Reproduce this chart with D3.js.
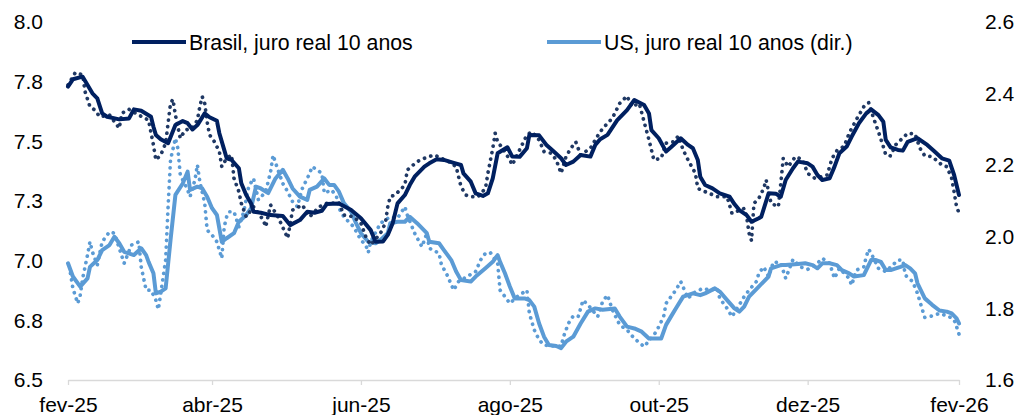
<!DOCTYPE html>
<html>
<head>
<meta charset="utf-8">
<script src="https://cdn.jsdelivr.net/npm/d3@7"></script>
<style>
  body { margin: 0; background: #fff; }
  svg { display: block; font-family: "Liberation Sans", Arial, sans-serif; }
</style>
</head>
<body>
<div id="chart"></div>
<script>
// Brasil, juro real 10 anos (media, linha cheia) - eixo esq.
var brasilMedia = [["2025-02-01",7.729],["2025-02-03",7.760],["2025-02-07",7.771],["2025-02-09",7.736],["2025-02-11",7.701],["2025-02-13",7.680],["2025-02-15",7.617],["2025-02-17",7.603],["2025-02-22",7.592],["2025-02-26",7.596],["2025-02-28",7.634],["2025-03-03",7.628],["2025-03-07",7.603],["2025-03-08",7.561],["2025-03-09",7.527],["2025-03-11",7.509],["2025-03-14",7.492],["2025-03-17",7.568],["2025-03-20",7.585],["2025-03-22",7.576],["2025-03-24",7.550],["2025-03-26",7.568],["2025-03-29",7.617],["2025-03-31",7.601],["2025-04-03",7.586],["2025-04-04",7.534],["2025-04-06",7.464],["2025-04-07",7.429],["2025-04-09",7.422],["2025-04-12",7.387],["2025-04-13",7.324],["2025-04-15",7.275],["2025-04-17",7.240],["2025-04-18",7.205],["2025-04-21",7.201],["2025-04-25",7.191],["2025-04-30",7.187],["2025-05-03",7.149],["2025-05-07",7.170],["2025-05-10",7.205],["2025-05-13",7.201],["2025-05-16",7.209],["2025-05-18",7.237],["2025-05-23",7.240],["2025-05-28",7.212],["2025-06-01",7.178],["2025-06-05",7.128],["2025-06-07",7.079],["2025-06-10",7.080],["2025-06-12",7.108],["2025-06-14",7.157],["2025-06-16",7.240],["2025-06-19",7.275],["2025-06-21",7.317],["2025-06-23",7.352],["2025-06-27",7.394],["2025-06-29",7.408],["2025-07-02",7.425],["2025-07-05",7.422],["2025-07-09",7.410],["2025-07-12",7.401],["2025-07-13",7.366],["2025-07-16",7.331],["2025-07-18",7.282],["2025-07-21",7.271],["2025-07-23",7.282],["2025-07-25",7.345],["2025-07-27",7.450],["2025-07-31",7.475],["2025-08-02",7.436],["2025-08-05",7.435],["2025-08-08",7.471],["2025-08-09",7.527],["2025-08-13",7.525],["2025-08-16",7.485],["2025-08-19",7.457],["2025-08-22",7.429],["2025-08-24",7.401],["2025-08-27",7.415],["2025-08-30",7.443],["2025-09-03",7.436],["2025-09-05",7.485],["2025-09-07",7.509],["2025-09-10",7.527],["2025-09-14",7.589],["2025-09-18",7.631],["2025-09-21",7.673],["2025-09-25",7.652],["2025-09-27",7.617],["2025-09-28",7.547],["2025-10-01",7.513],["2025-10-04",7.457],["2025-10-06",7.475],["2025-10-10",7.513],["2025-10-13",7.485],["2025-10-15",7.471],["2025-10-17",7.422],["2025-10-18",7.352],["2025-10-20",7.317],["2025-10-23",7.303],["2025-10-26",7.282],["2025-10-30",7.268],["2025-11-01",7.237],["2025-11-03",7.212],["2025-11-06",7.191],["2025-11-08",7.163],["2025-11-11",7.178],["2025-11-12",7.184],["2025-11-15",7.282],["2025-11-18",7.280],["2025-11-20",7.268],["2025-11-22",7.338],["2025-11-25",7.387],["2025-11-27",7.415],["2025-12-01",7.408],["2025-12-03",7.394],["2025-12-05",7.359],["2025-12-07",7.338],["2025-12-10",7.345],["2025-12-12",7.394],["2025-12-14",7.450],["2025-12-17",7.478],["2025-12-19",7.519],["2025-12-22",7.576],["2025-12-25",7.617],["2025-12-27",7.634],["2025-12-30",7.610],["2026-01-01",7.582],["2026-01-02",7.506],["2026-01-04",7.475],["2026-01-07",7.464],["2026-01-09",7.461],["2026-01-11",7.498],["2026-01-15",7.513],["2026-01-19",7.485],["2026-01-22",7.457],["2026-01-25",7.429],["2026-01-28",7.419],["2026-01-30",7.359],["2026-02-01",7.275]];

// Brasil diario (pontilhado)
var brasilDiario = [["2025-02-01",7.736],["2025-02-04",7.788],["2025-02-07",7.778],["2025-02-08",7.708],["2025-02-10",7.645],["2025-02-12",7.631],["2025-02-14",7.603],["2025-02-18",7.610],["2025-02-22",7.555],["2025-02-23",7.617],["2025-02-26",7.634],["2025-03-02",7.610],["2025-03-06",7.589],["2025-03-08",7.485],["2025-03-09",7.422],["2025-03-11",7.443],["2025-03-13",7.492],["2025-03-14",7.576],["2025-03-15",7.659],["2025-03-16",7.676],["2025-03-17",7.610],["2025-03-19",7.513],["2025-03-21",7.547],["2025-03-24",7.555],["2025-03-26",7.589],["2025-03-27",7.645],["2025-03-28",7.687],["2025-03-29",7.659],["2025-03-30",7.582],["2025-03-31",7.527],["2025-04-02",7.498],["2025-04-04",7.457],["2025-04-05",7.394],["2025-04-07",7.429],["2025-04-09",7.443],["2025-04-10",7.345],["2025-04-12",7.289],["2025-04-13",7.240],["2025-04-15",7.184],["2025-04-18",7.226],["2025-04-22",7.170],["2025-04-23",7.142],["2025-04-25",7.233],["2025-04-28",7.184],["2025-05-02",7.094],["2025-05-04",7.212],["2025-05-08",7.233],["2025-05-11",7.184],["2025-05-15",7.226],["2025-05-18",7.240],["2025-05-23",7.243],["2025-05-25",7.191],["2025-05-29",7.184],["2025-06-01",7.157],["2025-06-03",7.100],["2025-06-05",7.066],["2025-06-09",7.115],["2025-06-11",7.157],["2025-06-12",7.226],["2025-06-13",7.268],["2025-06-15",7.275],["2025-06-19",7.317],["2025-06-20",7.380],["2025-06-24",7.415],["2025-06-27",7.429],["2025-07-01",7.443],["2025-07-04",7.429],["2025-07-07",7.415],["2025-07-10",7.394],["2025-07-12",7.310],["2025-07-14",7.275],["2025-07-16",7.268],["2025-07-19",7.268],["2025-07-22",7.303],["2025-07-23",7.366],["2025-07-25",7.471],["2025-07-26",7.534],["2025-07-27",7.498],["2025-07-29",7.471],["2025-08-01",7.422],["2025-08-02",7.401],["2025-08-05",7.464],["2025-08-08",7.527],["2025-08-10",7.540],["2025-08-13",7.506],["2025-08-15",7.457],["2025-08-18",7.450],["2025-08-20",7.422],["2025-08-22",7.366],["2025-08-24",7.436],["2025-08-26",7.471],["2025-08-28",7.498],["2025-08-30",7.443],["2025-09-03",7.471],["2025-09-05",7.506],["2025-09-07",7.540],["2025-09-10",7.576],["2025-09-12",7.597],["2025-09-15",7.659],["2025-09-18",7.690],["2025-09-20",7.645],["2025-09-23",7.659],["2025-09-25",7.582],["2025-09-27",7.506],["2025-09-29",7.422],["2025-10-02",7.429],["2025-10-04",7.492],["2025-10-07",7.498],["2025-10-09",7.522],["2025-10-11",7.464],["2025-10-13",7.422],["2025-10-16",7.366],["2025-10-17",7.303],["2025-10-19",7.293],["2025-10-25",7.268],["2025-10-29",7.268],["2025-10-31",7.198],["2025-11-05",7.219],["2025-11-06",7.184],["2025-11-07",7.115],["2025-11-08",7.084],["2025-11-09",7.240],["2025-11-11",7.261],["2025-11-13",7.303],["2025-11-14",7.338],["2025-11-16",7.240],["2025-11-19",7.226],["2025-11-20",7.324],["2025-11-21",7.429],["2025-11-23",7.394],["2025-11-26",7.436],["2025-11-29",7.422],["2025-12-01",7.366],["2025-12-04",7.345],["2025-12-09",7.359],["2025-12-11",7.429],["2025-12-13",7.461],["2025-12-16",7.480],["2025-12-18",7.534],["2025-12-21",7.592],["2025-12-24",7.645],["2025-12-26",7.662],["2025-12-28",7.597],["2025-12-30",7.540],["2026-01-01",7.478],["2026-01-02",7.443],["2026-01-04",7.439],["2026-01-06",7.485],["2026-01-11",7.534],["2026-01-14",7.531],["2026-01-16",7.471],["2026-01-18",7.439],["2026-01-21",7.436],["2026-01-25",7.401],["2026-01-27",7.394],["2026-01-29",7.345],["2026-01-30",7.289],["2026-01-31",7.226],["2026-02-01",7.200]];

// US, juro real 10 anos (media, linha cheia) - eixo dir.
var usMedia = [["2025-02-01",1.926],["2025-02-03",1.889],["2025-02-06",1.861],["2025-02-09",1.884],["2025-02-10",1.916],["2025-02-13",1.935],["2025-02-15",1.963],["2025-02-18",1.977],["2025-02-20",2.000],["2025-02-22",1.982],["2025-02-24",1.958],["2025-02-28",1.949],["2025-03-03",1.968],["2025-03-05",1.949],["2025-03-06",1.930],["2025-03-08",1.898],["2025-03-09",1.842],["2025-03-11",1.847],["2025-03-13",1.856],["2025-03-15",1.991],["2025-03-17",2.117],["2025-03-20",2.149],["2025-03-22",2.182],["2025-03-23",2.131],["2025-03-26",2.140],["2025-03-28",2.135],["2025-03-30",2.112],["2025-04-01",2.080],["2025-04-03",2.061],["2025-04-05",1.986],["2025-04-07",1.996],["2025-04-10",2.010],["2025-04-12",2.042],["2025-04-15",2.061],["2025-04-17",2.080],["2025-04-19",2.140],["2025-04-21",2.135],["2025-04-24",2.122],["2025-04-27",2.163],["2025-04-30",2.187],["2025-05-02",2.163],["2025-05-04",2.135],["2025-05-07",2.112],["2025-05-10",2.103],["2025-05-11",2.131],["2025-05-14",2.140],["2025-05-17",2.163],["2025-05-19",2.145],["2025-05-21",2.145],["2025-05-23",2.126],["2025-05-25",2.094],["2025-05-28",2.070],["2025-05-30",2.038],["2025-06-01",2.010],["2025-06-04",1.986],["2025-06-07",1.982],["2025-06-09",1.991],["2025-06-12",2.010],["2025-06-13",2.038],["2025-06-16",2.042],["2025-06-19",2.042],["2025-06-21",2.056],["2025-06-24",2.038],["2025-06-26",2.024],["2025-06-28",2.010],["2025-06-29",1.986],["2025-07-03",1.982],["2025-07-05",1.963],["2025-07-08",1.935],["2025-07-10",1.903],["2025-07-12",1.879],["2025-07-16",1.875],["2025-07-18",1.889],["2025-07-22",1.912],["2025-07-25",1.930],["2025-07-27",1.949],["2025-07-28",1.930],["2025-07-30",1.898],["2025-08-01",1.861],["2025-08-03",1.828],["2025-08-07",1.828],["2025-08-09",1.823],["2025-08-11",1.805],["2025-08-13",1.758],["2025-08-15",1.721],["2025-08-17",1.698],["2025-08-20",1.695],["2025-08-22",1.689],["2025-08-24",1.707],["2025-08-27",1.721],["2025-08-30",1.758],["2025-09-02",1.791],["2025-09-05",1.800],["2025-09-08",1.796],["2025-09-13",1.800],["2025-09-15",1.777],["2025-09-18",1.749],["2025-09-21",1.744],["2025-09-24",1.735],["2025-09-27",1.716],["2025-10-02",1.716],["2025-10-04",1.754],["2025-10-06",1.777],["2025-10-08",1.800],["2025-10-11",1.833],["2025-10-15",1.842],["2025-10-18",1.837],["2025-10-20",1.842],["2025-10-24",1.856],["2025-10-26",1.847],["2025-10-29",1.823],["2025-11-01",1.800],["2025-11-03",1.791],["2025-11-05",1.805],["2025-11-07",1.833],["2025-11-11",1.861],["2025-11-15",1.889],["2025-11-16",1.912],["2025-11-20",1.921],["2025-11-22",1.921],["2025-11-27",1.924],["2025-11-30",1.926],["2025-12-03",1.921],["2025-12-05",1.912],["2025-12-07",1.926],["2025-12-10",1.926],["2025-12-13",1.921],["2025-12-15",1.907],["2025-12-18",1.898],["2025-12-20",1.889],["2025-12-24",1.893],["2025-12-27",1.935],["2025-12-29",1.935],["2025-12-31",1.930],["2026-01-02",1.907],["2026-01-04",1.907],["2026-01-08",1.916],["2026-01-10",1.921],["2026-01-12",1.912],["2026-01-14",1.898],["2026-01-15",1.870],["2026-01-18",1.828],["2026-01-21",1.810],["2026-01-24",1.794],["2026-01-27",1.791],["2026-01-29",1.786],["2026-01-31",1.772],["2026-02-01",1.758]];

// US diario (pontilhado)
var usDiario = [["2025-02-02",1.898],["2025-02-03",1.856],["2025-02-05",1.814],["2025-02-06",1.837],["2025-02-07",1.884],["2025-02-09",1.949],["2025-02-10",1.986],["2025-02-11",1.958],["2025-02-13",1.921],["2025-02-15",1.986],["2025-02-18",2.014],["2025-02-20",2.010],["2025-02-22",1.968],["2025-02-24",1.926],["2025-02-27",1.977],["2025-03-02",1.986],["2025-03-03",1.916],["2025-03-05",1.851],["2025-03-07",1.851],["2025-03-09",1.823],["2025-03-10",1.797],["2025-03-11",1.842],["2025-03-13",1.935],["2025-03-14",2.084],["2025-03-15",2.215],["2025-03-17",2.275],["2025-03-18",2.247],["2025-03-19",2.173],["2025-03-22",2.131],["2025-03-23",2.112],["2025-03-25",2.159],["2025-03-26",2.201],["2025-03-27",2.154],["2025-03-29",2.094],["2025-03-30",2.019],["2025-04-01",2.005],["2025-04-03",1.986],["2025-04-05",1.940],["2025-04-06",2.028],["2025-04-07",2.056],["2025-04-08",2.070],["2025-04-10",2.070],["2025-04-12",2.028],["2025-04-14",2.070],["2025-04-16",2.140],["2025-04-18",2.163],["2025-04-20",2.103],["2025-04-23",2.126],["2025-04-25",2.182],["2025-04-26",2.228],["2025-04-28",2.187],["2025-04-30",2.149],["2025-05-02",2.126],["2025-05-04",2.098],["2025-05-06",2.084],["2025-05-07",2.112],["2025-05-08",2.135],["2025-05-11",2.177],["2025-05-12",2.196],["2025-05-14",2.187],["2025-05-16",2.177],["2025-05-17",2.122],["2025-05-20",2.131],["2025-05-22",2.112],["2025-05-23",2.080],["2025-05-25",2.056],["2025-05-29",2.028],["2025-06-01",1.991],["2025-06-03",1.977],["2025-06-04",1.956],["2025-06-05",1.986],["2025-06-09",2.038],["2025-06-13",2.056],["2025-06-16",2.052],["2025-06-19",2.084],["2025-06-20",2.061],["2025-06-23",2.010],["2025-06-26",1.972],["2025-06-28",2.010],["2025-06-29",1.968],["2025-07-03",1.954],["2025-07-04",1.921],["2025-07-06",1.898],["2025-07-09",1.851],["2025-07-11",1.875],["2025-07-18",1.903],["2025-07-20",1.935],["2025-07-22",1.954],["2025-07-24",1.956],["2025-07-27",1.926],["2025-07-28",1.851],["2025-07-29",1.842],["2025-08-01",1.814],["2025-08-04",1.833],["2025-08-08",1.851],["2025-08-09",1.786],["2025-08-11",1.740],["2025-08-13",1.712],["2025-08-15",1.698],["2025-08-18",1.695],["2025-08-22",1.695],["2025-08-23",1.721],["2025-08-25",1.758],["2025-08-27",1.779],["2025-08-29",1.777],["2025-08-31",1.823],["2025-09-02",1.810],["2025-09-06",1.777],["2025-09-08",1.819],["2025-09-10",1.837],["2025-09-12",1.796],["2025-09-15",1.754],["2025-09-18",1.740],["2025-09-21",1.716],["2025-09-25",1.693],["2025-09-30",1.735],["2025-10-03",1.777],["2025-10-04",1.814],["2025-10-08",1.851],["2025-10-10",1.875],["2025-10-13",1.828],["2025-10-15",1.842],["2025-10-19",1.856],["2025-10-22",1.851],["2025-10-25",1.856],["2025-10-26",1.828],["2025-10-29",1.800],["2025-10-31",1.777],["2025-11-03",1.810],["2025-11-05",1.833],["2025-11-07",1.851],["2025-11-10",1.875],["2025-11-11",1.898],["2025-11-13",1.916],["2025-11-15",1.889],["2025-11-17",1.930],["2025-11-20",1.926],["2025-11-22",1.884],["2025-11-25",1.937],["2025-11-28",1.916],["2025-12-01",1.909],["2025-12-05",1.926],["2025-12-07",1.940],["2025-12-10",1.926],["2025-12-12",1.884],["2025-12-14",1.912],["2025-12-18",1.884],["2025-12-19",1.865],["2025-12-21",1.907],["2025-12-24",1.916],["2025-12-25",1.944],["2025-12-26",1.965],["2025-12-27",1.954],["2025-12-28",1.940],["2025-12-30",1.912],["2026-01-02",1.903],["2026-01-07",1.935],["2026-01-09",1.935],["2026-01-10",1.893],["2026-01-13",1.875],["2026-01-15",1.842],["2026-01-16",1.819],["2026-01-17",1.796],["2026-01-18",1.775],["2026-01-21",1.779],["2026-01-24",1.786],["2026-01-28",1.777],["2026-01-30",1.768],["2026-01-31",1.749],["2026-02-01",1.728]];

var xTicks = ["2025-02-01","2025-04-01","2025-06-01","2025-08-01","2025-10-01","2025-12-01","2026-02-01"];
var xLabels = ["fev-25","abr-25","jun-25","ago-25","out-25","dez-25","fev-26"];
var yLeftTicks = [6.5, 6.75, 7.0, 7.25, 7.5, 7.75, 8.0];
var yLeftLabels = ["6.5","6.8","7.0","7.3","7.5","7.8","8.0"];
var yRightTicks = [1.6, 1.8, 2.0, 2.2, 2.4, 2.6];
var yRightLabels = ["1.6","1.8","2.0","2.2","2.4","2.6"];
var legendNames = ["Brasil, juro real 10 anos", "US, juro real 10 anos (dir.)"];

var W = 1020, H = 415,
    plot = {left: 68, right: 959, top: 22, bottom: 380};

var parse = d3.timeParse("%Y-%m-%d");
var navy = "#002060", navyDot = "#1f3864", blue = "#5b9bd5";

var svg = d3.select("#chart").append("svg")
    .attr("width", W)
    .attr("height", H);

var x = d3.scaleTime()
    .domain([parse("2025-02-01"), parse("2026-02-01")])
    .range([plot.left, plot.right]);

var yL = d3.scaleLinear().domain([6.5, 8.0]).range([plot.bottom, plot.top]);
var yR = d3.scaleLinear().domain([1.6, 2.6]).range([plot.bottom, plot.top]);

// axes
var gx = svg.append("g")
    .attr("transform", "translate(0," + plot.bottom + ")")
    .call(d3.axisBottom(x)
      .tickValues(xTicks.map(parse))
      .tickFormat(function(d, i) { return xLabels[i]; })
      .tickSize(5)
      .tickSizeOuter(0)
      .tickPadding(12));
gx.select(".domain").attr("stroke", "#d9d9d9").attr("stroke-width", 1.3);
gx.selectAll(".tick line").attr("stroke", "#d9d9d9").attr("stroke-width", 1.3);
gx.selectAll(".tick text").attr("font-size", 21).attr("fill", "#000")
    .attr("font-family", "Liberation Sans, Arial, sans-serif");

var gl = svg.append("g")
    .attr("transform", "translate(" + plot.left + ",0)")
    .call(d3.axisLeft(yL)
      .tickValues(yLeftTicks)
      .tickFormat(function(d, i) { return yLeftLabels[i]; })
      .tickSize(0)
      .tickPadding(25));
gl.select(".domain").remove();
gl.selectAll(".tick text").attr("font-size", 21).attr("fill", "#000")
    .attr("font-family", "Liberation Sans, Arial, sans-serif");

var gr = svg.append("g")
    .attr("transform", "translate(" + plot.right + ",0)")
    .call(d3.axisRight(yR)
      .tickValues(yRightTicks)
      .tickFormat(function(d, i) { return yRightLabels[i]; })
      .tickSize(0)
      .tickPadding(26));
gr.select(".domain").remove();
gr.selectAll(".tick text").attr("font-size", 21).attr("fill", "#000")
    .attr("font-family", "Liberation Sans, Arial, sans-serif");

// lines
function lineFor(y) {
  return d3.line()
    .x(function(d) { return x(parse(d[0])); })
    .y(function(d) { return y(d[1]); });
}

var series = [
  {data: usDiario, y: yR, color: blue, dotted: true},
  {data: usMedia, y: yR, color: blue, dotted: false},
  {data: brasilDiario, y: yL, color: navyDot, dotted: true},
  {data: brasilMedia, y: yL, color: navy, dotted: false}
];

svg.append("g").selectAll("path")
  .data(series)
  .enter().append("path")
    .attr("d", function(s) { return lineFor(s.y)(s.data); })
    .attr("fill", "none")
    .attr("stroke", function(s) { return s.color; })
    .attr("stroke-width", function(s) { return s.dotted ? 3.7 : 4; })
    .attr("stroke-linecap", "round")
    .attr("stroke-linejoin", "round")
    .attr("stroke-dasharray", function(s) { return s.dotted ? "0.1,6.5" : null; });

// legend
var legend = svg.append("g")
  .selectAll("g")
  .data(legendNames)
  .enter().append("g")
    .attr("transform", function(d, i) { return "translate(" + [132, 547][i] + ",42)"; });

legend.append("line")
    .attr("x1", 0).attr("x2", 54)
    .attr("stroke", function(d, i) { return [navy, blue][i]; })
    .attr("stroke-width", 4);

legend.append("text")
    .attr("x", 57)
    .attr("y", 8)
    .attr("font-size", 21.3)
    .attr("fill", "#000")
    .text(function(d) { return d; });
</script>
</body>
</html>
